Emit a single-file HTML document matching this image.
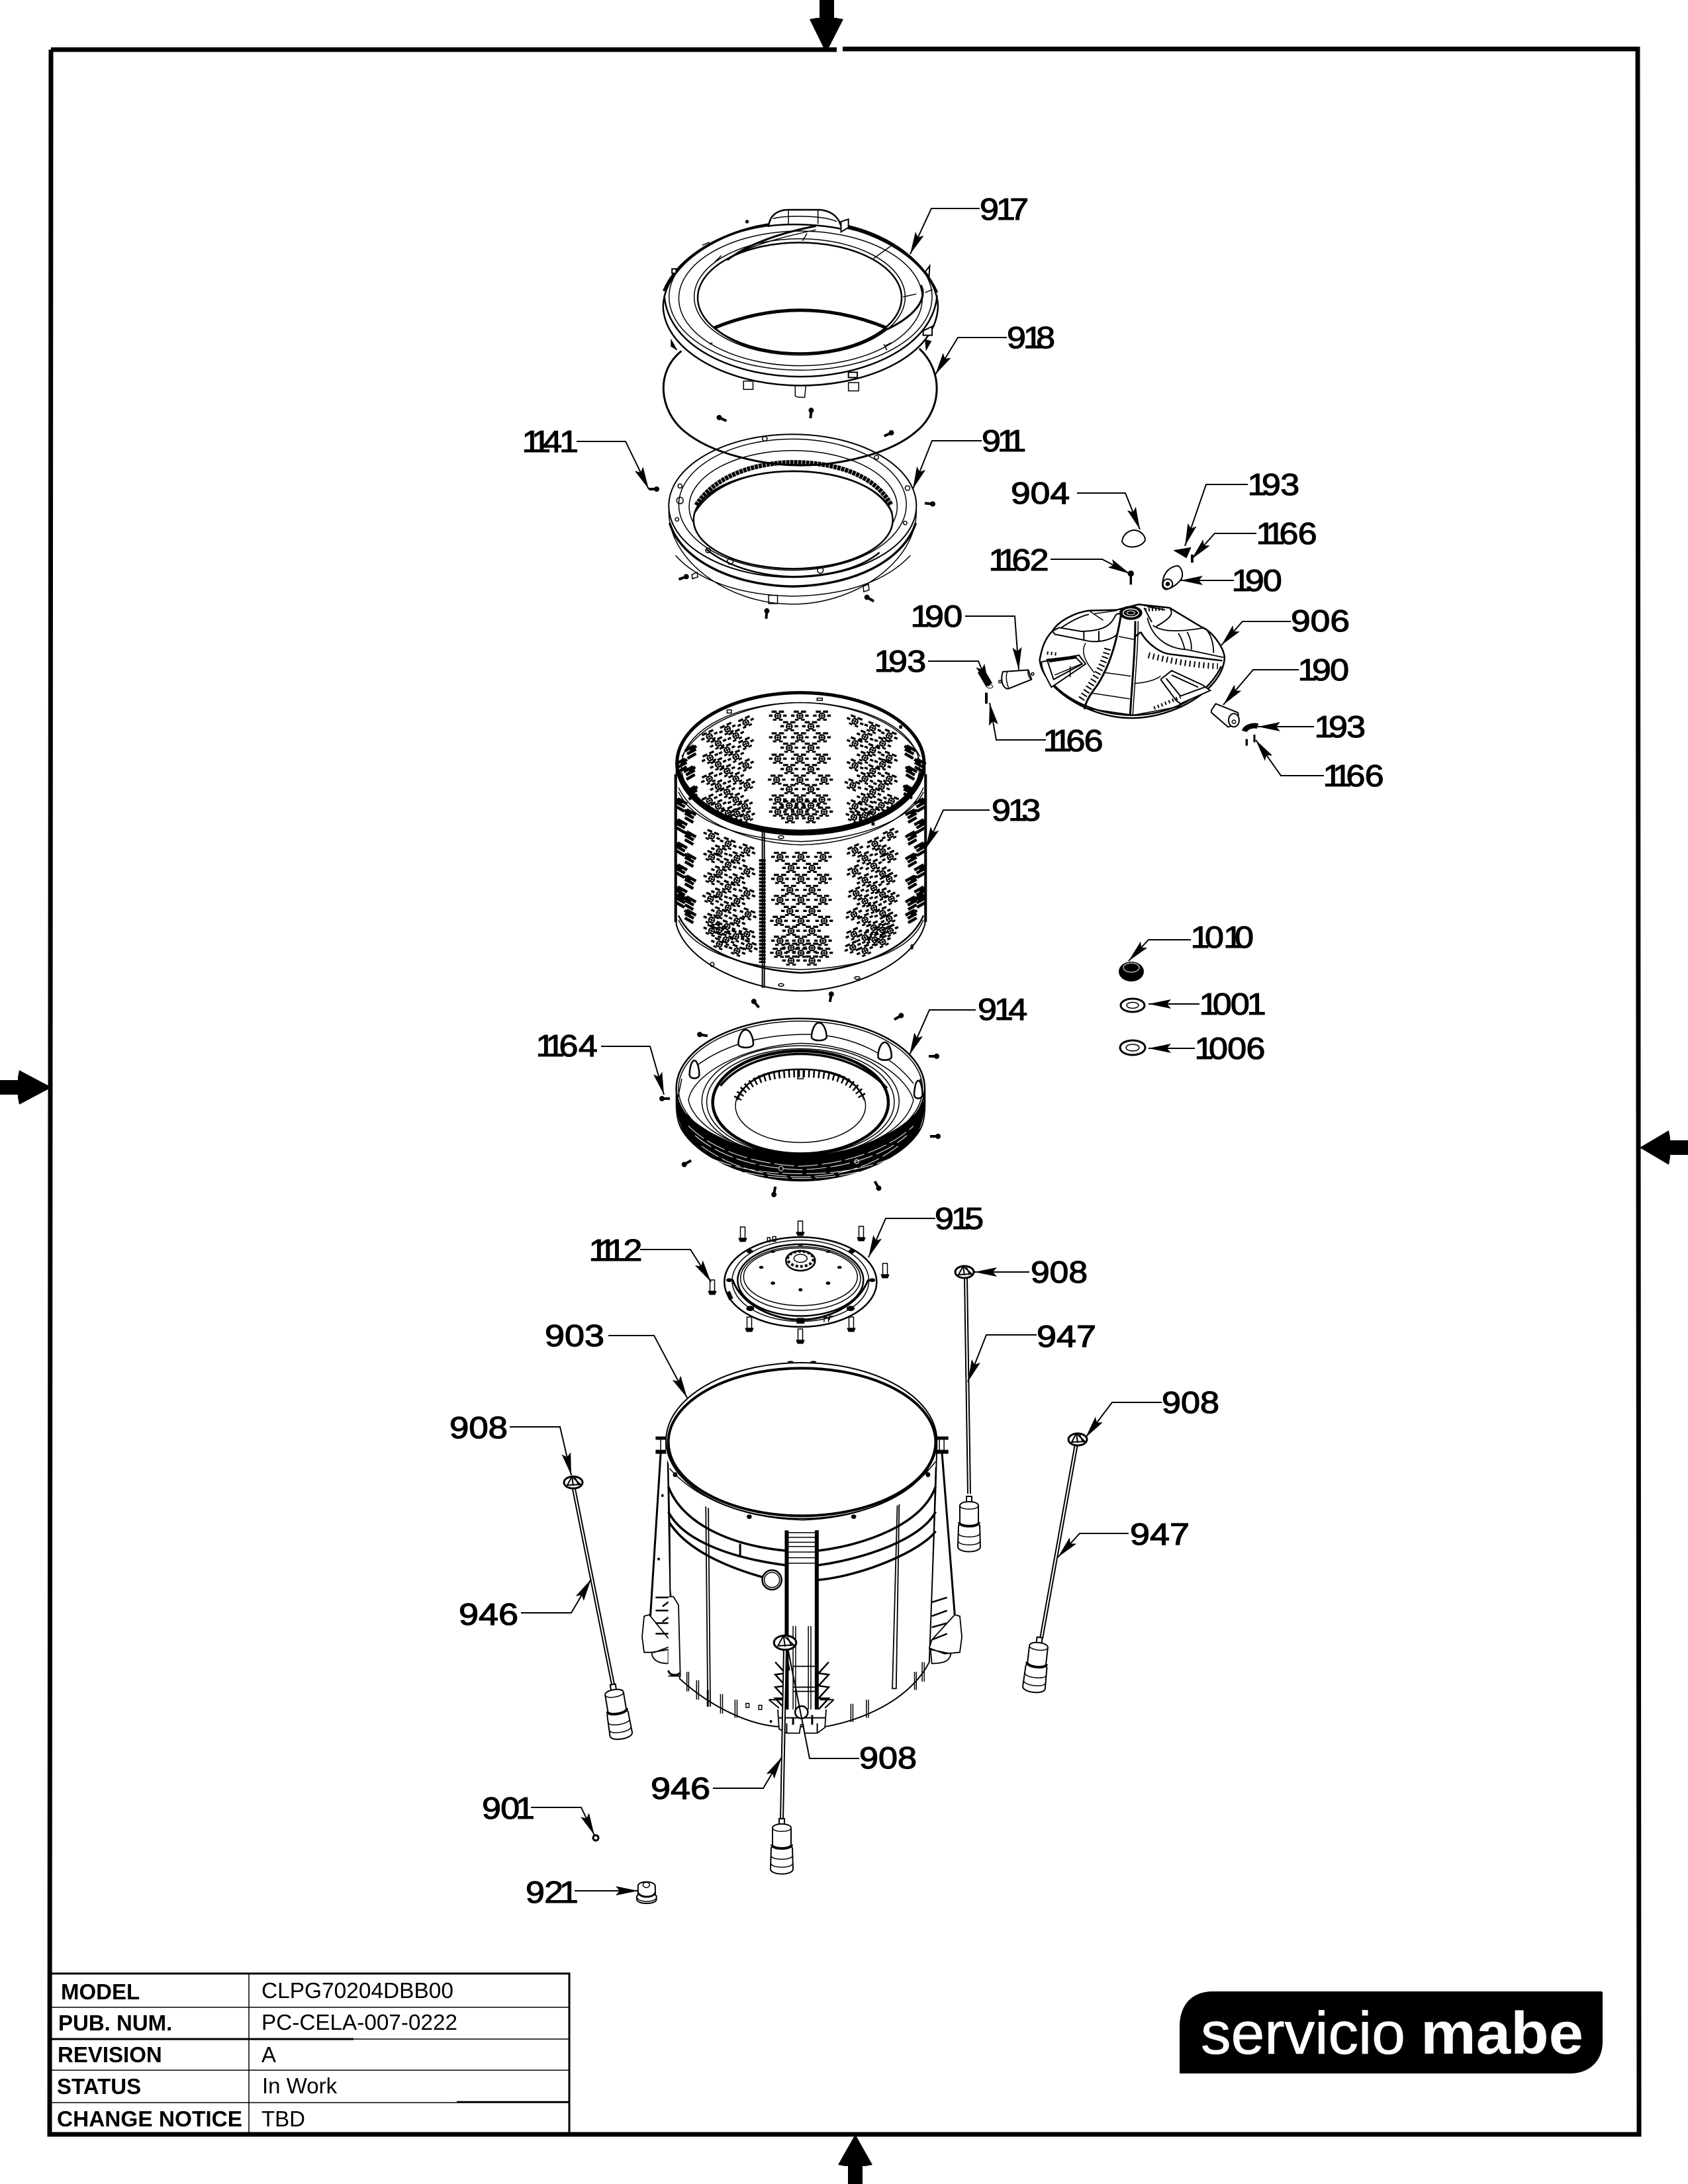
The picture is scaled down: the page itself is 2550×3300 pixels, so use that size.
<!DOCTYPE html>
<html><head><meta charset="utf-8"><style>
html,body{margin:0;padding:0;background:#fff}
svg{display:block}
svg *{vector-effect:non-scaling-stroke}
.l{font-family:"Liberation Sans",sans-serif;font-size:46px;fill:#000;stroke:#000;stroke-width:1.2}
.b{font-family:"Liberation Sans",sans-serif;font-size:33px;font-weight:bold;fill:#000}
.r{font-family:"Liberation Sans",sans-serif;font-size:33px;fill:#000}
.d{fill:none;stroke:#000;stroke-width:1.5}
.ld{fill:none;stroke:#000;stroke-width:2;marker-end:url(#a)}
.w{fill:#fff}
</style></head><body>
<svg xmlns="http://www.w3.org/2000/svg" width="2550" height="3300" viewBox="0 0 2550 3300">
<defs>
<marker id="a" viewBox="0 0 34 14" refX="34" refY="7" markerWidth="34" markerHeight="14" markerUnits="userSpaceOnUse" orient="auto"><path d="M0 0L34 7L0 14L6 7z"/></marker>
<g id="s"><path d="M-7 0L4 0" stroke="#000" stroke-width="4" fill="none"/><circle cx="5" r="4" fill="#000"/></g>
<g id="p"><path d="M-3.5 -13h7v17h-7z" fill="#fff" stroke="#000" stroke-width="1.5"/><path d="M-6 4h12l-2 5h-8z" fill="#000" stroke="#000"/></g>
<g id="hd"><ellipse rx="14" ry="9" fill="#fff" stroke="#000" stroke-width="3"/><path d="M-9 4L-2 -9L11 3Z" fill="#fff" stroke="#000" stroke-width="2"/><path d="M3 -7L8 4M-2 -9L0 5" stroke="#000" stroke-width="2"/></g>
<g id="f"><rect x="-4" y="-14" width="8" height="15" fill="#fff" stroke="#000" stroke-width="2"/><path d="M-14 0C-14 -8 14 -8 14 0L14 28L16 30L17 62C17 72 -17 72 -17 62L-16 30L-14 28Z" fill="#fff" stroke="#000" stroke-width="2"/><path d="M-15 25C-15 33 15 33 15 25" fill="none" stroke="#000" stroke-width="4"/><path d="M-16 42C-16 49 16 49 16 42M-16 54C-16 61 16 61 16 54" fill="none" stroke="#000" stroke-width="1.5"/><path d="M-14 0C-14 7 14 7 14 0" fill="none" stroke="#000" stroke-width="1.5"/></g>
<g id="h"><ellipse rx="13" ry="12" fill="#fff" stroke="#000" stroke-width="2"/><path d="M-13 0H13M0 -12V12" stroke="#000" stroke-width="1.5"/><path d="M-28 -24h23v10h-23zM5 -24h23v10h-23zM-40 -6h16v10h-16zM24 -6h16v10h-16zM-22 13h16v9h-16zM6 13h16v9h-16z" fill="#000"/></g>
<g id="hl"><use href="#h" transform="rotate(22)"/></g>
<g id="hr"><use href="#h" transform="rotate(-25)"/></g>
<g id="he"><path d="M-24 -14L16 8M-16 -30L26 -6M-24 6L14 28M-26 -28L4 -10" stroke="#000" stroke-width="4.5" fill="none"/></g>
<g id="hf"><path d="M24 -14L-16 8M16 -30L-26 -6M24 6L-14 28M26 -28L-4 -10" stroke="#000" stroke-width="4.5" fill="none"/></g>
<path id="egg" d="M0 -42C22 -42 34 -5 34 18C34 38 -34 38 -34 18C-34 -5 -22 -42 0 -42Z" fill="#fff" stroke="#000" stroke-width="2.5"/>
</defs>
<rect width="2550" height="3300" fill="#fff"/>

<!-- frame -->
<path d="M77 75L1264 75M1273 74L2474 74L2476 3225L75 3225L77 75" fill="none" stroke="#000" stroke-width="7"/>
<path d="M1238 0h22v27h3l11 2l-22 43h-8l-21 -43l11 -2h4z"/>
<path d="M0 1632h27v-4l2 -11l49 26l-49 26l-2 -11v-4h-27z"/>
<path d="M2550 1723h-27v-4l-2 -11l-44 26l44 26l2 -11v-4h27z"/>
<path d="M1281 3300v-27h-4l-11 -2l26 -46l26 46l-11 2h-4v27z"/>

<!-- ring 911 -->
<g transform="translate(900 250) scale(.4464)">
<path d="M247 1170C247 1340 450 1485 666 1485C880 1485 1085 1340 1085 1170Z" fill="#fff" stroke="#000" stroke-width="1.5"/>
<ellipse cx="666" cy="1152" rx="419" ry="242" fill="#fff" stroke="#000" stroke-width="2"/>
<path d="M250 1210C290 1340 470 1422 666 1425C870 1422 1040 1340 1083 1210" fill="none" stroke="#000" stroke-width="3.5"/>
<path d="M270 1320C340 1400 480 1455 666 1458C860 1455 990 1400 1065 1320" class="d"/>
<ellipse cx="666" cy="1148" rx="385" ry="222" class="d"/>
<ellipse cx="668" cy="1155" rx="352" ry="190" class="d"/>
<ellipse cx="668" cy="1200" rx="337" ry="165" fill="#fff" stroke="#000" stroke-width="2.5"/>
<path d="M340 1150C410 1040 560 1005 668 1005C800 1005 940 1040 1000 1150" fill="none" stroke="#000" stroke-width="7" stroke-dasharray="5 1"/>
<path d="M335 1175C400 1070 540 1035 668 1035C800 1035 950 1070 1003 1175" fill="none" stroke="#000" stroke-width="2.5"/>
<path d="M375 1300C450 1360 560 1390 668 1392C800 1390 900 1360 960 1310" fill="none" stroke="#000" stroke-width="2.5"/>
<circle cx="285" cy="1134" r="11" class="d"/><circle cx="285" cy="1085" r="7" class="d"/><circle cx="1055" cy="1092" r="8" class="d"/><circle cx="1047" cy="1210" r="6" class="d"/><circle cx="455" cy="1340" r="10" class="d"/><circle cx="380" cy="1303" r="8" class="d"/><circle cx="760" cy="1370" r="10" class="d"/><circle cx="572" cy="925" r="8" class="d"/><circle cx="950" cy="988" r="7" class="d"/><circle cx="275" cy="1198" r="6" class="d"/>
<path d="M585 1455h30v28h-30zM905 1425l18 -8l2 20l-18 6zM325 1385l18 -8l2 16l-18 6z" class="d"/>
</g>

<!-- gasket 918 lower, ring 917 -->
<g transform="translate(900 250) scale(.4464)">
<path d="M290 628C200 700 215 830 300 900C390 975 560 1015 693 1015C830 1015 1000 975 1085 900C1170 830 1180 700 1095 620" fill="none" stroke="#000" stroke-width="3"/>
<path d="M500 730h32v28h-32zM855 735h35v28h-35zM675 745v35q2 5 32 5l4 -40z" fill="#fff" stroke="#000" stroke-width="1.5"/>
<path d="M228 480C235 630 450 745 693 745C930 745 1150 640 1158 480C1158 330 930 190 693 190C450 190 228 330 228 480Z" fill="#fff" stroke="#000" stroke-width="2.5"/>
<path d="M232 440C245 620 480 715 693 715C900 715 1140 620 1155 440" fill="none" stroke="#000" stroke-width="2.5"/>
<ellipse cx="693" cy="445" rx="445" ry="248" class="d"/>
<ellipse cx="693" cy="450" rx="412" ry="228" class="d"/>
<ellipse cx="690" cy="445" rx="357" ry="197" class="d"/>
<ellipse cx="690" cy="448" rx="345" ry="187" fill="#fff" stroke="#000" stroke-width="2.5"/>
<path d="M400 550Q693 430 985 550" fill="none" stroke="#000" stroke-width="5"/>
<path d="M403 550C480 620 600 637 690 637C780 637 900 620 985 550" fill="none" stroke="#000" stroke-width="2.5"/>
<path d="M445 320C520 262 640 225 745 205" fill="none" stroke="#000" stroke-width="3"/>
<path d="M450 312C540 265 640 240 745 218" class="d"/>
<path d="M1100 405C1120 440 1100 500 985 555" fill="none" stroke="#000" stroke-width="3"/>
<path d="M940 315L1005 268M1040 445L1085 435M700 255L715 230M1115 430L1140 420M400 330L425 305M360 270L385 260" class="d"/>
<path d="M230 425C290 280 500 190 693 190" fill="none" stroke="#000" stroke-width="3.5"/>
<path d="M830 200C980 230 1100 310 1155 430" fill="none" stroke="#000" stroke-width="3.5"/>
<path d="M585 205C590 165 620 150 650 150L760 150C800 155 825 175 832 215C760 200 660 195 585 205Z" fill="#fff" stroke="#000" stroke-width="2.5"/>
<path d="M652 150V198M752 150V198M600 180C640 168 770 168 815 190" class="d"/>
<path d="M830 190L855 182V210L830 225Z" fill="#fff" stroke="#000" stroke-width="2"/>
<circle cx="512" cy="190" r="6" fill="#000"/>
<path d="M1115 360L1130 340L1128 375ZM258 350h14v15h-14zM855 700h30v18h-30zM1108 560L1138 545V575H1108Z" fill="#fff" stroke="#000" stroke-width="2"/>
<path d="M255 590L275 625L255 612ZM1115 590L1135 595L1118 625Z" fill="#000" stroke="#000"/>
<path d="M385 605L395 600M980 610L1000 600M975 605L985 625" class="d"/>
</g>

<use href="#s" transform="translate(1091 633) rotate(-155)"/><use href="#s" transform="translate(1225 625) rotate(-85)"/><use href="#s" transform="translate(1342 656) rotate(-25)"/><use href="#s" transform="translate(987 739) rotate(0)"/><use href="#s" transform="translate(1404 761) rotate(5)"/><use href="#s" transform="translate(1032 873) rotate(-20)"/><use href="#s" transform="translate(1314 905) rotate(-150)"/><use href="#s" transform="translate(1158 928) rotate(-85)"/>

<!-- drum 913 -->
<g transform="translate(950 1000) scale(.3333)">
<path d="M215 480V1190C260 1370 560 1492 780 1492C1000 1492 1290 1370 1342 1190V480Z" fill="#fff" stroke="#000" stroke-width="2"/>
<path d="M212 510V1180M1345 510V1180" stroke="#000" stroke-width="4"/>
<path d="M225 570C300 730 560 825 780 830C1020 825 1270 730 1335 570" class="d"/>
<path d="M225 590C300 750 560 805 780 815C1020 805 1270 730 1335 590" class="d"/>
<path d="M225 1150C300 1310 560 1400 780 1410C1020 1400 1270 1310 1335 1150" fill="none" stroke="#000" stroke-width="2.5"/>
<path d="M225 1170C300 1330 560 1388 780 1395C1020 1388 1270 1330 1335 1170" class="d"/>
<ellipse cx="778" cy="460" rx="560" ry="320" fill="#fff" stroke="#000" stroke-width="5"/>
<ellipse cx="778" cy="475" rx="540" ry="290" class="d"/>
<path d="M240 430C340 250 600 185 778 185C960 185 1220 250 1320 430" class="d"/>
<path d="M225 500C300 690 560 770 778 770C1000 770 1260 690 1330 500" fill="none" stroke="#000" stroke-width="6"/>
<path d="M605 770V1478M614 770V1478" stroke="#000" stroke-width="2"/>
<path d="M605 895V1365" stroke="#000" stroke-width="10" stroke-dasharray="4 1.5"/>
<rect x="853" y="165" width="24" height="10" class="d"/><rect x="445" y="218" width="20" height="14" class="d"/><ellipse cx="690" cy="795" rx="12" ry="7" class="d"/><ellipse cx="690" cy="1465" rx="12" ry="6" class="d"/><ellipse cx="1035" cy="1433" rx="12" ry="6" class="d"/><ellipse cx="378" cy="1372" rx="8" ry="10" class="d"/><ellipse cx="1283" cy="1292" rx="5" ry="10" class="d"/>
<path d="M1100 735h14M1225 295h14" stroke="#000" stroke-width="5"/>
<g>
<use href="#h" x="675" y="245"/><use href="#h" x="775" y="245"/><use href="#h" x="875" y="245"/><use href="#h" x="727" y="293"/><use href="#h" x="825" y="293"/><use href="#h" x="675" y="343"/><use href="#h" x="775" y="343"/><use href="#h" x="875" y="343"/><use href="#h" x="727" y="390"/><use href="#h" x="825" y="390"/><use href="#h" x="675" y="440"/><use href="#h" x="775" y="440"/><use href="#h" x="875" y="440"/><use href="#h" x="727" y="487"/><use href="#h" x="825" y="487"/><use href="#h" x="670" y="535"/><use href="#h" x="775" y="535"/><use href="#h" x="885" y="535"/><use href="#h" x="727" y="578"/><use href="#h" x="825" y="578"/><use href="#h" x="675" y="625"/><use href="#h" x="775" y="625"/><use href="#h" x="875" y="625"/><use href="#h" x="727" y="652"/><use href="#h" x="825" y="652"/><use href="#h" x="675" y="680"/><use href="#h" x="775" y="680"/><use href="#h" x="885" y="680"/><use href="#h" x="730" y="710"/><use href="#h" x="825" y="710"/>
<use href="#hr" x="530" y="275"/><use href="#hr" x="447" y="305"/><use href="#hr" x="365" y="338"/><use href="#hr" x="485" y="335"/><use href="#hr" x="405" y="370"/><use href="#hr" x="530" y="372"/><use href="#hr" x="445" y="400"/><use href="#hr" x="368" y="435"/><use href="#hr" x="485" y="430"/><use href="#hr" x="405" y="465"/><use href="#hr" x="530" y="470"/><use href="#hr" x="445" y="495"/><use href="#hr" x="365" y="530"/><use href="#hr" x="485" y="530"/><use href="#hr" x="405" y="565"/><use href="#hr" x="535" y="560"/><use href="#hr" x="445" y="590"/><use href="#hr" x="365" y="630"/><use href="#hr" x="485" y="625"/><use href="#hr" x="405" y="655"/><use href="#hr" x="525" y="655"/><use href="#hr" x="450" y="685"/><use href="#hr" x="490" y="690"/><use href="#hr" x="535" y="705"/>
<use href="#hl" x="1025" y="270"/><use href="#hl" x="1105" y="300"/><use href="#hl" x="1180" y="335"/><use href="#hl" x="1070" y="340"/><use href="#hl" x="1150" y="370"/><use href="#hl" x="1025" y="370"/><use href="#hl" x="1105" y="400"/><use href="#hl" x="1180" y="435"/><use href="#hl" x="1070" y="435"/><use href="#hl" x="1150" y="465"/><use href="#hl" x="1025" y="470"/><use href="#hl" x="1105" y="495"/><use href="#hl" x="1180" y="530"/><use href="#hl" x="1070" y="530"/><use href="#hl" x="1145" y="565"/><use href="#hl" x="1015" y="560"/><use href="#hl" x="1105" y="590"/><use href="#hl" x="1190" y="630"/><use href="#hl" x="1070" y="625"/><use href="#hl" x="1145" y="650"/><use href="#hl" x="1025" y="655"/><use href="#hl" x="1105" y="680"/><use href="#hl" x="1070" y="695"/><use href="#hl" x="1020" y="705"/>
<use href="#h" x="685" y="885"/><use href="#h" x="780" y="885"/><use href="#h" x="880" y="885"/><use href="#h" x="735" y="935"/><use href="#h" x="830" y="935"/><use href="#h" x="685" y="985"/><use href="#h" x="780" y="985"/><use href="#h" x="880" y="985"/><use href="#h" x="730" y="1035"/><use href="#h" x="830" y="1035"/><use href="#h" x="685" y="1080"/><use href="#h" x="780" y="1080"/><use href="#h" x="880" y="1080"/><use href="#h" x="730" y="1130"/><use href="#h" x="830" y="1130"/><use href="#h" x="680" y="1175"/><use href="#h" x="780" y="1175"/><use href="#h" x="885" y="1175"/><use href="#h" x="735" y="1220"/><use href="#h" x="830" y="1220"/><use href="#h" x="685" y="1265"/><use href="#h" x="780" y="1265"/><use href="#h" x="880" y="1265"/><use href="#h" x="735" y="1297"/><use href="#h" x="830" y="1297"/><use href="#h" x="680" y="1320"/><use href="#h" x="780" y="1320"/><use href="#h" x="885" y="1320"/><use href="#h" x="735" y="1355"/><use href="#h" x="830" y="1355"/>
<use href="#hl" x="375" y="790"/><use href="#hl" x="450" y="825"/><use href="#hl" x="535" y="855"/><use href="#hl" x="410" y="860"/><use href="#hl" x="490" y="890"/><use href="#hl" x="375" y="885"/><use href="#hl" x="450" y="920"/><use href="#hl" x="535" y="950"/><use href="#hl" x="410" y="955"/><use href="#hl" x="490" y="990"/><use href="#hl" x="375" y="985"/><use href="#hl" x="450" y="1020"/><use href="#hl" x="535" y="1050"/><use href="#hl" x="410" y="1055"/><use href="#hl" x="490" y="1085"/><use href="#hl" x="370" y="1075"/><use href="#hl" x="450" y="1115"/><use href="#hl" x="540" y="1145"/><use href="#hl" x="410" y="1140"/><use href="#hl" x="490" y="1175"/><use href="#hl" x="375" y="1170"/><use href="#hl" x="445" y="1200"/><use href="#hl" x="535" y="1235"/><use href="#hl" x="410" y="1215"/><use href="#hl" x="485" y="1245"/><use href="#hl" x="375" y="1220"/><use href="#hl" x="440" y="1260"/><use href="#hl" x="545" y="1290"/><use href="#hl" x="410" y="1280"/><use href="#hl" x="490" y="1310"/>
<use href="#hr" x="1185" y="785"/><use href="#hr" x="1115" y="825"/><use href="#hr" x="1025" y="855"/><use href="#hr" x="1150" y="860"/><use href="#hr" x="1070" y="890"/><use href="#hr" x="1185" y="885"/><use href="#hr" x="1110" y="925"/><use href="#hr" x="1025" y="950"/><use href="#hr" x="1150" y="960"/><use href="#hr" x="1070" y="990"/><use href="#hr" x="1180" y="985"/><use href="#hr" x="1110" y="1025"/><use href="#hr" x="1030" y="1050"/><use href="#hr" x="1150" y="1055"/><use href="#hr" x="1070" y="1085"/><use href="#hr" x="1190" y="1075"/><use href="#hr" x="1110" y="1115"/><use href="#hr" x="1020" y="1145"/><use href="#hr" x="1150" y="1140"/><use href="#hr" x="1070" y="1170"/><use href="#hr" x="1180" y="1165"/><use href="#hr" x="1110" y="1205"/><use href="#hr" x="1020" y="1235"/><use href="#hr" x="1150" y="1215"/><use href="#hr" x="1070" y="1250"/><use href="#hr" x="1185" y="1220"/><use href="#hr" x="1115" y="1260"/><use href="#hr" x="1015" y="1295"/><use href="#hr" x="1150" y="1270"/><use href="#hr" x="1070" y="1310"/>
<use href="#he" x="238" y="650"/><use href="#he" x="278" y="700"/><use href="#he" x="238" y="745"/><use href="#he" x="278" y="800"/><use href="#he" x="238" y="850"/><use href="#he" x="278" y="900"/><use href="#he" x="238" y="950"/><use href="#he" x="278" y="1000"/><use href="#he" x="238" y="1050"/><use href="#he" x="278" y="1095"/><use href="#he" x="238" y="1085"/><use href="#he" x="278" y="1155"/>
<use href="#hf" x="1320" y="650"/><use href="#hf" x="1280" y="700"/><use href="#hf" x="1320" y="745"/><use href="#hf" x="1280" y="800"/><use href="#hf" x="1320" y="850"/><use href="#hf" x="1280" y="900"/><use href="#hf" x="1320" y="950"/><use href="#hf" x="1280" y="1000"/><use href="#hf" x="1320" y="1050"/><use href="#hf" x="1280" y="1095"/><use href="#hf" x="1320" y="1085"/><use href="#hf" x="1280" y="1155"/>
<use href="#hf" x="280" y="410"/><use href="#hf" x="275" y="505"/><use href="#hf" x="238" y="470"/><use href="#hf" x="285" y="595"/><use href="#he" x="1275" y="410"/><use href="#he" x="1280" y="505"/><use href="#he" x="1320" y="470"/><use href="#he" x="1270" y="590"/>
</g>
</g>

<!-- ring 914 -->
<g transform="translate(950 1480) scale(.3333 .3571)">
<path d="M215 470V520C215 580 225 620 250 650C340 770 570 852 778 852C990 852 1220 770 1310 650C1335 620 1342 580 1342 520V470Z" fill="#fff" stroke="#000" stroke-width="2"/>
<ellipse cx="778" cy="460" rx="563" ry="295" fill="#fff" stroke="#000" stroke-width="2.5"/>
<ellipse cx="778" cy="462" rx="553" ry="286" class="d"/>
<path d="M215 500C215 545 218 590 250 650C340 770 570 852 778 852C990 852 1220 770 1310 650C1338 590 1342 545 1342 500C1310 610 1050 745 778 745C510 745 245 610 215 500Z" fill="#000"/>
<path d="M330 705C470 800 620 832 778 835C940 832 1090 800 1220 705M380 760C500 805 640 822 778 822C930 822 1060 805 1180 760M300 660C430 765 620 800 778 805C930 800 1130 765 1260 660M270 620C400 740 620 785 778 790C930 785 1150 740 1290 620M420 790C540 825 660 840 778 842C900 840 1020 825 1140 790" fill="none" stroke="#fff" stroke-width="1" stroke-dasharray="30 6"/>
<path d="M300 370C450 260 650 230 830 232C1020 240 1190 320 1290 440" class="d"/>
<path d="M270 510C290 400 520 280 778 270C1030 272 1250 390 1290 510C1250 660 1010 745 778 745C540 745 300 640 270 510Z" fill="#fff" stroke="#000" stroke-width="1.5"/>
<ellipse cx="778" cy="515" rx="447" ry="235" class="d"/>
<ellipse cx="778" cy="518" rx="425" ry="225" class="d"/>
<ellipse cx="778" cy="520" rx="398" ry="218" fill="#fff" stroke="#000" stroke-width="4.5"/>
<path d="M415 450C500 350 660 315 778 315C900 315 1060 350 1170 460" fill="none" stroke="#000" stroke-width="3.5"/>
<ellipse cx="778" cy="535" rx="295" ry="155" fill="#fff" stroke="#000" stroke-width="1.5"/>
<path d="M492 505C540 415 660 397 778 397C900 397 1020 415 1063 505" fill="none" stroke="#000" stroke-width="12" stroke-dasharray="2.5 5"/>
<path d="M490 510C540 400 660 380 778 380C900 380 1020 400 1068 510" fill="none" stroke="#000" stroke-width="2.5"/>
<path d="M765 382h25v38h-25z" class="d"/>
<use href="#egg" transform="translate(530 255)"/><use href="#egg" transform="translate(862 225)"/><use href="#egg" transform="translate(1160 308) scale(.9 1)"/><use href="#egg" transform="translate(297 385) scale(.65 1)"/><use href="#egg" transform="translate(1312 470) scale(.55 1)"/>
<path d="M220 510L240 420M1338 510L1320 420" class="d"/>
<circle cx="690" cy="800" r="10" stroke="#fff" fill="none"/><circle cx="1033" cy="770" r="9" stroke="#fff" fill="none"/>
</g>
<use href="#s" transform="translate(1142 1517) rotate(-130)"/><use href="#s" transform="translate(1255 1507) rotate(-80)"/><use href="#s" transform="translate(1357 1537) rotate(-30)"/><use href="#s" transform="translate(1062 1564) rotate(-170)"/><use href="#s" transform="translate(1410 1596)"/><use href="#s" transform="translate(1412 1717)"/><use href="#s" transform="translate(1325 1791) rotate(60)"/><use href="#s" transform="translate(1170 1800) rotate(100)"/><use href="#s" transform="translate(1038 1757) rotate(150)"/><use href="#s" transform="translate(1005 1660) rotate(180)"/>

<!-- plate 915 -->
<g transform="translate(950 1480) scale(.3333 .3571)">
<ellipse cx="778" cy="1280" rx="345" ry="190" fill="#fff" stroke="#000" stroke-width="2.5"/>
<ellipse cx="778" cy="1275" rx="310" ry="172" class="d"/>
<ellipse cx="778" cy="1272" rx="285" ry="152" fill="none" stroke="#000" stroke-width="2.5"/>
<ellipse cx="778" cy="1265" rx="272" ry="135" class="d"/>
<ellipse cx="778" cy="1258" rx="258" ry="122" class="d"/>
<path d="M470 1270C510 1380 660 1440 778 1440C900 1440 1040 1380 1085 1270" fill="none" stroke="#000" stroke-width="3"/>
<ellipse cx="778" cy="1190" rx="66" ry="42" fill="#fff" stroke="#000" stroke-width="2.5"/>
<ellipse cx="778" cy="1182" rx="58" ry="32" fill="none" stroke="#000" stroke-width="4" stroke-dasharray="4 3"/>
<ellipse cx="778" cy="1180" rx="30" ry="17" fill="#fff" stroke="#000" stroke-width="1.5"/>
<g fill="#000"><ellipse cx="653" cy="1152" rx="10" ry="5"/><ellipse cx="903" cy="1152" rx="10" ry="5"/><ellipse cx="600" cy="1218" rx="10" ry="6"/><ellipse cx="955" cy="1218" rx="10" ry="6"/><ellipse cx="653" cy="1285" rx="10" ry="7"/><ellipse cx="903" cy="1285" rx="10" ry="7"/><ellipse cx="778" cy="1313" rx="9" ry="7"/><rect x="768" y="1120" width="20" height="7"/><ellipse cx="548" cy="1150" rx="14" ry="9"/><ellipse cx="1010" cy="1150" rx="14" ry="9"/><ellipse cx="455" cy="1272" rx="14" ry="8"/><ellipse cx="1103" cy="1272" rx="14" ry="8"/><ellipse cx="550" cy="1392" rx="18" ry="11"/><ellipse cx="1005" cy="1392" rx="18" ry="11"/><rect x="760" y="1432" width="36" height="24"/><rect x="446" y="1320" width="20" height="35" transform="rotate(-25 456 1337)"/></g>
<path d="M885 1450V1430H905V1450M910 1440V1425H930" class="d"/>
<rect x="628" y="1092" width="12" height="18" class="d"/><rect x="652" y="1088" width="14" height="20" class="d"/>
</g>
<use href="#p" x="1122" y="1867"/><use href="#p" x="1209" y="1858"/><use href="#p" x="1301" y="1866"/><use href="#p" x="1337" y="1922"/><use href="#p" x="1076" y="1947"/><use href="#p" x="1132" y="2003"/><use href="#p" x="1286" y="2003"/><use href="#p" x="1209" y="2021"/>

<!-- tub 903 -->
<g transform="translate(900 2040) scale(.3846 .4209)">
<path d="M282 340L290 620L292 860L330 1180C450 1280 600 1345 720 1352L900 1352C1040 1330 1230 1260 1310 1120L1335 500L1340 340Z" fill="#fff" stroke="#000" stroke-width="2"/>
<path d="M255 370L210 1020" stroke="#000" stroke-width="3"/><path d="M282 400L292 880" class="d"/><path d="M1360 370L1410 950" stroke="#000" stroke-width="3"/><path d="M1335 420L1320 880" class="d"/>
<path d="M235 310H285V322H235ZM235 358H285V372H235ZM1340 310H1385V322H1340ZM1340 358H1385V372H1340Z" fill="#000"/><path d="M255 322V358M275 322V358M1350 322V358M1368 322V358" class="d"/>
<path d="M190 955L210 950L290 1040L290 1065L230 1085L190 1085L182 1030ZM220 1090C225 1115 250 1125 285 1125L285 1075L220 1085Z" fill="#fff" stroke="#000" stroke-width="1.8"/>
<path d="M1430 955L1410 950L1320 1040L1310 1070L1370 1090L1430 1085L1438 1030ZM1395 1090C1390 1115 1370 1125 1320 1125L1315 1075Z" fill="#fff" stroke="#000" stroke-width="1.8"/>
<path d="M235 888H292M262 920L292 900M235 935H292M262 975L292 955M235 980H292M235 1018H292M1320 905L1380 888M1320 955L1380 935M1320 995L1380 980M1320 1040L1380 1018" fill="none" stroke="#000" stroke-width="2.5"/>
<path d="M285 885H305L325 915L332 1170L285 1170" fill="#fff" stroke="#000" stroke-width="1.8"/><path d="M285 1150C290 1170 320 1170 332 1158" fill="none" stroke="#000" stroke-width="3"/>
<path d="M285 490C340 620 520 700 745 720M285 580C340 680 520 745 745 772M290 620C360 720 520 780 655 815" fill="none" stroke="#000" stroke-width="3.5"/>
<path d="M875 720C1050 700 1280 630 1335 490M875 772C1050 750 1280 680 1335 580M875 825C1050 810 1280 720 1335 650" fill="none" stroke="#000" stroke-width="3.5"/>
<path d="M567 695V740" stroke="#000" stroke-width="3"/>
<path d="M432 540L440 1280M442 540L450 1280" stroke="#000" stroke-width="1.8"/><path d="M440 1220V1280" stroke="#000" stroke-width="3"/>
<path d="M1185 540L1165 1215H1180L1192 540" fill="none" stroke="#000" stroke-width="1.8"/>
<path d="M358 1155V1225M365 1155V1225M396 1185V1255M404 1185V1255M490 1235V1305M498 1235V1305M547 1255V1320M555 1255V1320M1002 1270V1335M1010 1270V1335M1063 1255V1320M1071 1255V1320M1252 1155V1220M1259 1155V1220M1282 1120V1190M1290 1120V1190" stroke="#000" stroke-width="1.5"/>
<ellipse cx="692" cy="825" rx="38" ry="35" fill="#fff" stroke="#000" stroke-width="2.5"/><ellipse cx="692" cy="825" rx="30" ry="27" class="d"/>
<path d="M750 620V1320M868 620V1320" stroke="#000" stroke-width="6"/>
<path d="M758 655H862M758 672H862M758 690H862M758 705H862M758 725H862M758 745H862M758 765H862M775 620V645M805 620V645M840 620V645" stroke="#000" stroke-width="1.5"/>
<path d="M755 620h20v20h-20zM845 620h20v20h-20z" fill="#fff" stroke="#000" stroke-width="2"/>
<path d="M775 990V1320M785 990V1320M835 990V1320M845 990V1320" stroke="#000" stroke-width="1.5"/>
<path d="M775 1135H860M775 1210H860M775 1225H860" stroke="#000" stroke-width="1.8"/>
<path d="M705 1120L745 1160L705 1165L745 1205L705 1210L745 1250L705 1250L745 1290M915 1120L875 1160L915 1165L875 1205L915 1210L875 1250L915 1250L875 1290" fill="none" stroke="#000" stroke-width="2.5"/>
<path d="M680 1255H740M680 1255L720 1285M880 1255H935M935 1255L900 1285" fill="none" stroke="#000" stroke-width="2"/>
<path d="M715 1290L720 1360L750 1375H800L805 1345H815L820 1375H870L900 1355L905 1290" fill="#fff" stroke="#000" stroke-width="1.8"/>
<path d="M720 1320H900M750 1340V1375M870 1340V1375" stroke="#000" stroke-width="2"/>
<path d="M775 1320V1345M850 1310V1345" stroke="#000" stroke-width="3"/>
<ellipse cx="808" cy="1300" rx="25" ry="22" fill="#fff" stroke="#000" stroke-width="2.5"/>
<path d="M745 1075L760 1150" fill="none" stroke="#000" stroke-width="3"/>
<ellipse cx="805" cy="347" rx="530" ry="302" fill="#fff" stroke="none"/>
<ellipse cx="808" cy="325" rx="532" ry="280" fill="#fff" stroke="#000" stroke-width="2"/>
<ellipse cx="810" cy="330" rx="525" ry="265" fill="#fff" stroke="#000" stroke-width="4"/>
<path d="M290 425C400 540 600 605 810 610C1020 605 1220 540 1335 400" class="d"/>
<ellipse cx="765" cy="42" rx="12" ry="3" fill="#000"/><ellipse cx="855" cy="42" rx="12" ry="3" fill="#000"/><ellipse cx="603" cy="598" rx="10" ry="8" fill="#000"/><ellipse cx="1013" cy="598" rx="10" ry="8" fill="#000"/><circle cx="312" cy="447" r="9" fill="#000"/><circle cx="1305" cy="447" r="9" fill="#000"/><circle cx="262" cy="522" r="5" fill="#000"/><circle cx="247" cy="750" r="5" fill="#000"/><circle cx="688" cy="1333" r="5" fill="#000"/>
<rect x="590" y="1268" width="12" height="15" class="d"/><rect x="640" y="1275" width="12" height="15" class="d"/>
</g>

<!-- rods, heads, floats -->
<path d="M867 2250L926 2545M1459 1930L1464 2257M1626 2182L1573 2476M1186 2490L1181 2750" stroke="#000" stroke-width="6" fill="none"/>
<path d="M867 2250L926 2545M1459 1930L1464 2257M1626 2182L1573 2476M1186 2490L1181 2750" stroke="#fff" stroke-width="2" fill="none"/>
<path d="M1298 2657H1223L1190 2490" fill="none" stroke="#000" stroke-width="2"/>
<use href="#hd" x="866" y="2240"/><use href="#hd" x="1457" y="1922"/><use href="#hd" x="1628" y="2175"/><use href="#hd" transform="translate(1186 2482) scale(1.2)"/>
<use href="#f" transform="translate(928 2559) rotate(-9.5)"/><use href="#f" transform="translate(1464 2275)"/><use href="#f" transform="translate(1569 2488) rotate(6.5)"/><use href="#f" transform="translate(1181 2762)"/>

<!-- pulsator 906 and caps -->
<g transform="translate(1400 850) scale(.3333)">
<path d="M512 440C520 560 720 705 930 705C1130 705 1345 570 1350 430C1345 380 1290 310 1250 295L1100 205L960 190L860 215L735 218C680 225 600 260 570 310C530 350 520 400 512 440Z" fill="#fff" stroke="#000" stroke-width="2.5"/>
<path d="M525 470C560 590 740 690 930 692C1100 692 1270 610 1335 470" fill="none" stroke="#000" stroke-width="2.5"/>
<path d="M735 218L800 262M760 232L860 218" class="d"/>
<path d="M570 310L580 325L715 352C770 368 850 350 865 320L880 240C870 225 860 230 850 250C830 290 790 310 700 312L600 295L570 310M610 295C640 275 690 245 735 235M712 312V355M780 310V355" fill="#fff" stroke="#000" stroke-width="2"/>
<path d="M880 240C860 360 830 470 770 560C740 600 720 630 715 665" fill="none" stroke="#000" stroke-width="3"/>
<path d="M945 265C945 400 930 550 922 690" fill="none" stroke="#000" stroke-width="3"/><path d="M958 265C958 400 942 550 934 690" class="d"/>
<ellipse cx="925" cy="228" rx="52" ry="32" fill="#000"/><ellipse cx="925" cy="228" rx="35" ry="18" fill="none" stroke="#fff" stroke-width="1.5"/><ellipse cx="925" cy="228" rx="18" ry="9" fill="none" stroke="#fff" stroke-width="1"/>
<path d="M985 195L1100 205C1120 230 1110 250 1040 290M985 205L1020 270M1000 200L1080 215" fill="none" stroke="#000" stroke-width="2"/>
<path d="M990 215L1070 210" stroke="#000" stroke-width="5" stroke-dasharray="2 3" fill="none"/>
<path d="M1000 250C1020 340 1090 390 1180 395L1345 430M1025 285C1060 310 1120 320 1260 295M1140 320C1160 350 1165 380 1170 395M1180 315C1195 340 1200 370 1200 395M1265 300C1290 330 1300 370 1300 410" fill="none" stroke="#000" stroke-width="1.8"/>
<path d="M970 315C1000 370 1060 410 1100 415L1340 445M945 335L970 315" fill="none" stroke="#000" stroke-width="2.5"/>
<path d="M1060 530L1110 490L1250 555L1285 580L1150 640L1130 625L1060 530M1085 525L1150 605L1260 565M1110 510L1230 565" fill="#fff" stroke="#000" stroke-width="2"/>
<path d="M520 450L690 420L720 460L565 565C530 500 520 480 520 450M545 440L670 425L705 460L575 530ZM555 450L680 432" fill="#fff" stroke="#000" stroke-width="2"/><path d="M555 447L680 430" stroke="#000" stroke-width="3"/><path d="M580 510L700 460M650 470V520" class="d"/>
<path d="M1005 420C1100 445 1200 465 1320 470" fill="none" stroke="#000" stroke-width="9" stroke-dasharray="2 5"/>
<path d="M820 390C800 470 760 530 700 620" fill="none" stroke="#000" stroke-width="10" stroke-dasharray="2 4.5"/>
<path d="M545 410L590 415M1030 660L1150 610" fill="none" stroke="#000" stroke-width="5" stroke-dasharray="2 4"/>
<path d="M720 365C700 400 710 440 760 500M800 498L925 515M750 592L920 618M940 548C1000 545 1040 530 1060 515M720 660L925 690M945 690L1160 650M870 335L945 350" class="d"/>
<!-- 190 caps -->
<path d="M1070 85C1075 40 1110 15 1140 15C1160 30 1165 60 1150 80C1130 105 1100 120 1085 122C1070 120 1065 105 1070 85Z" fill="#fff" stroke="#000" stroke-width="2"/><circle cx="1092" cy="97" r="22" fill="#fff" stroke="#000" stroke-width="2"/><circle cx="1092" cy="97" r="10" fill="#000"/>
<path d="M345 495L460 487L475 530L370 572C350 575 330 540 345 495Z" fill="#fff" stroke="#000" stroke-width="2"/><path d="M365 495C355 520 365 555 372 572M460 487C455 505 465 525 475 530" class="d"/><circle cx="332" cy="540" r="6" class="d"/><circle cx="480" cy="505" r="6" class="d"/>
<path d="M1290 670L1310 640L1410 680C1420 700 1390 745 1365 745L1290 680Z" fill="#fff" stroke="#000" stroke-width="2"/><ellipse cx="1392" cy="715" rx="24" ry="30" fill="#fff" stroke="#000" stroke-width="2"/><circle cx="1392" cy="722" r="8" class="d"/>
<path d="M1440 765C1445 745 1480 735 1500 742" stroke="#000" stroke-width="8" fill="none"/><rect x="1445" y="800" width="10" height="30" fill="#000"/><path d="M1485 780V815" stroke="#000" stroke-width="3"/>
<path d="M245 490L283 555" stroke="#000" stroke-width="11"/><ellipse cx="286" cy="562" rx="14" ry="8" fill="#fff" stroke="#000"/><path d="M270 590V640" stroke="#000" stroke-width="4"/>
<circle cx="925" cy="50" r="14" fill="#000"/><path d="M925 55V100" stroke="#000" stroke-width="3.5"/>
</g>
<path d="M1695 818C1696 808 1705 801 1714 801C1724 802 1730 810 1730 816C1725 828 1700 831 1695 818Z" fill="#fff" stroke="#000" stroke-width="2"/>
<path d="M1775 832L1798 828L1792 842Z" fill="#000" stroke="#000" stroke-width="2"/><path d="M1801 838V850" stroke="#000" stroke-width="4"/>
<!-- 1010/1001/1006 -->
<ellipse cx="1709" cy="1468" rx="19" ry="15" fill="#000"/><ellipse cx="1709" cy="1462" rx="12" ry="7" fill="none" stroke="#fff"/>
<ellipse cx="1711" cy="1519" rx="18" ry="10" fill="#fff" stroke="#000" stroke-width="3"/><ellipse cx="1711" cy="1519" rx="9" ry="4.5" fill="#fff" stroke="#000" stroke-width="1.5"/>
<ellipse cx="1711" cy="1583" rx="19" ry="11" fill="#fff" stroke="#000" stroke-width="3"/><ellipse cx="1711" cy="1583" rx="10" ry="5" fill="#fff" stroke="#000" stroke-width="1.5"/>
<!-- 901, 921 -->
<circle cx="900" cy="2777" r="4" fill="#fff" stroke="#000" stroke-width="3"/>
<g transform="translate(680 2620) scale(.357 .333)">
<path d="M795 690C795 665 865 665 868 690L868 730L873 735V750C873 775 790 775 790 750V735L795 730Z" fill="#fff" stroke="#000" stroke-width="2"/>
<path d="M795 720C805 745 860 745 868 720" fill="none" stroke="#000" stroke-width="3"/><path d="M790 745C805 765 860 765 873 745" class="d"/><ellipse cx="830" cy="685" rx="14" ry="12" class="d"/>
</g>

<!-- leaders -->
<path class="ld" d="M1480 315H1407L1375 384"/>
<path class="ld" d="M1521 510H1447L1413 566"/>
<path class="ld" d="M1483 666H1408L1379 739"/>
<path class="ld" d="M871 667H945L980 739"/>
<path class="ld" d="M1627 745H1700L1722 800"/>
<path class="ld" d="M1885 732H1822L1790 825"/>
<path class="ld" d="M1898 806H1835L1800 845"/>
<path class="ld" d="M1587 845H1665L1707 867"/>
<path class="ld" d="M1864 877H1783"/>
<path class="ld" d="M1458 931H1533L1539 1012"/>
<path class="ld" d="M1402 999H1478L1494 1037"/>
<path class="ld" d="M1580 1118H1505L1495 1062"/>
<path class="ld" d="M1950 939H1877L1845 975"/>
<path class="ld" d="M1962 1012H1893L1848 1065"/>
<path class="ld" d="M1985 1098H1900"/>
<path class="ld" d="M2000 1172H1935L1897 1118"/>
<path class="ld" d="M1495 1224H1425L1398 1283"/>
<path class="ld" d="M1474 1526H1404L1374 1594"/>
<path class="ld" d="M1799 1420H1735L1705 1452"/>
<path class="ld" d="M1812 1517H1735"/>
<path class="ld" d="M1805 1584H1735"/>
<path class="ld" d="M908 1581H982L1003 1654"/>
<path class="ld" d="M967 1888H1043L1074 1937"/>
<path class="ld" d="M1413 1841H1338L1312 1900"/>
<path class="ld" d="M919 2018H988L1038 2112"/>
<path class="ld" d="M1555 1922H1472"/>
<path class="ld" d="M1566 2017H1490L1462 2088"/>
<path class="ld" d="M1755 2119H1680L1640 2172"/>
<path class="ld" d="M1705 2317H1631L1598 2353"/>
<path class="ld" d="M770 2156H846L863 2229"/>
<path class="ld" d="M787 2437H863L893 2386"/>
<path class="ld" d="M1077 2702H1153L1181 2655"/>
<path class="ld" d="M802 2731H878L898 2773"/>
<path class="ld" d="M868 2857H964"/>

<!-- labels -->
<text class="l" transform="translate(1480 332) scale(1.13 1)" x="0 22 40">917</text>
<text class="l" transform="translate(1521 526) scale(1.13 1)" x="0 22 39">918</text>
<text class="l" transform="translate(1483 682) scale(1.13 1)" x="0 21 34">911</text>
<text class="l" transform="translate(793 683) scale(1.13 1)" x="-4 9 24 46">1141</text>
<text class="l" x="1527" y="761" textLength="89" lengthAdjust="spacingAndGlyphs">904</text>
<text class="l" transform="translate(1889 748) scale(1.13 1)" x="-4 15 40">193</text>
<text class="l" transform="translate(1902 822) scale(1.13 1)" x="-4 9 27 52">1166</text>
<text class="l" transform="translate(1498 862) scale(1.13 1)" x="-4 9 27 51">1162</text>
<text class="l" transform="translate(1865 893) scale(1.13 1)" x="-4 14 38">190</text>
<text class="l" transform="translate(1380 947) scale(1.13 1)" x="-4 15 40">190</text>
<text class="l" x="1950" y="954" textLength="89" lengthAdjust="spacingAndGlyphs">906</text>
<text class="l" transform="translate(1325 1015) scale(1.13 1)" x="-4 15 40">193</text>
<text class="l" transform="translate(1965 1028) scale(1.13 1)" x="-4 15 39">190</text>
<text class="l" transform="translate(1990 1114) scale(1.13 1)" x="-4 15 39">193</text>
<text class="l" transform="translate(1580 1135) scale(1.13 1)" x="-4 9 27 51">1166</text>
<text class="l" transform="translate(2003 1188) scale(1.13 1)" x="-4 9 27 52">1166</text>
<text class="l" transform="translate(1498 1240) scale(1.13 1)" x="0 22 40">913</text>
<text class="l" transform="translate(1803 1432) scale(1.13 1)" x="-4 15 40 55">1010</text>
<text class="l" transform="translate(1816 1533) scale(1.13 1)" x="-4 14 38 60">1001</text>
<text class="l" transform="translate(1809 1600) scale(1.13 1)" x="-4 15 40 65">1006</text>
<text class="l" transform="translate(1477 1541) scale(1.13 1)" x="0 22 41">914</text>
<text class="l" transform="translate(814 1596) scale(1.13 1)" x="-4 9 27 53">1164</text>
<text class="l" transform="translate(1412 1857) scale(1.13 1)" x="0 22 40">915</text>
<text class="l" transform="translate(894 1905) scale(1.13 1)" x="-4 8 20 42">1112</text>
<text class="l" x="1557" y="1938" textLength="86" lengthAdjust="spacingAndGlyphs">908</text>
<text class="l" x="1566" y="2035" textLength="90" lengthAdjust="spacingAndGlyphs">947</text>
<text class="l" x="1755" y="2135" textLength="87" lengthAdjust="spacingAndGlyphs">908</text>
<text class="l" x="1707" y="2334" textLength="90" lengthAdjust="spacingAndGlyphs">947</text>
<text class="l" x="823" y="2034" textLength="90" lengthAdjust="spacingAndGlyphs">903</text>
<text class="l" x="679" y="2173" textLength="88" lengthAdjust="spacingAndGlyphs">908</text>
<text class="l" x="693" y="2455" textLength="90" lengthAdjust="spacingAndGlyphs">946</text>
<text class="l" x="1298" y="2672" textLength="87" lengthAdjust="spacingAndGlyphs">908</text>
<text class="l" x="983" y="2718" textLength="90" lengthAdjust="spacingAndGlyphs">946</text>
<text class="l" transform="translate(728 2748) scale(1.13 1)" x="0 25 45">901</text>
<text class="l" transform="translate(794 2875) scale(1.13 1)" x="0 25 45">921</text>

<!-- table -->
<path d="M78 2982H860V3222M78 3081H534" fill="none" stroke="#000" stroke-width="3"/>
<path d="M78 3033H860M78 3081H860M78 3128H860M78 3177H860M376 2982V3222" fill="none" stroke="#000" stroke-width="1.5"/>
<path d="M690 3176H860" stroke="#000" stroke-width="2.5"/>
<text class="b" x="92" y="3021">MODEL</text>
<text class="b" x="88" y="3068">PUB. NUM.</text>
<text class="b" x="87" y="3116">REVISION</text>
<text class="b" x="86" y="3164">STATUS</text>
<text class="b" x="86" y="3213" textLength="280" lengthAdjust="spacingAndGlyphs">CHANGE NOTICE</text>
<text class="r" x="395" y="3019" textLength="290" lengthAdjust="spacingAndGlyphs">CLPG70204DBB00</text>
<text class="r" x="395" y="3067" textLength="296" lengthAdjust="spacingAndGlyphs">PC-CELA-007-0222</text>
<text class="r" x="395" y="3116">A</text>
<text class="r" x="396" y="3163">In Work</text>
<text class="r" x="395" y="3213">TBD</text>

<!-- logo -->
<path d="M1782 3133V3062C1782 3030 1800 3009 1832 3009H2419Q2421 3009 2421 3011V3085C2421 3115 2400 3133 2372 3133Z" fill="#000"/>
<text x="1814" y="3103" font-family="'Liberation Sans',sans-serif" font-size="90" fill="#fff" stroke="#fff" stroke-width=".8" textLength="309" lengthAdjust="spacingAndGlyphs">servicio</text>
<text x="2146" y="3103" font-family="'Liberation Sans',sans-serif" font-size="90" font-weight="bold" fill="#fff" textLength="246" lengthAdjust="spacingAndGlyphs">mabe</text>
</svg>
</body></html>
